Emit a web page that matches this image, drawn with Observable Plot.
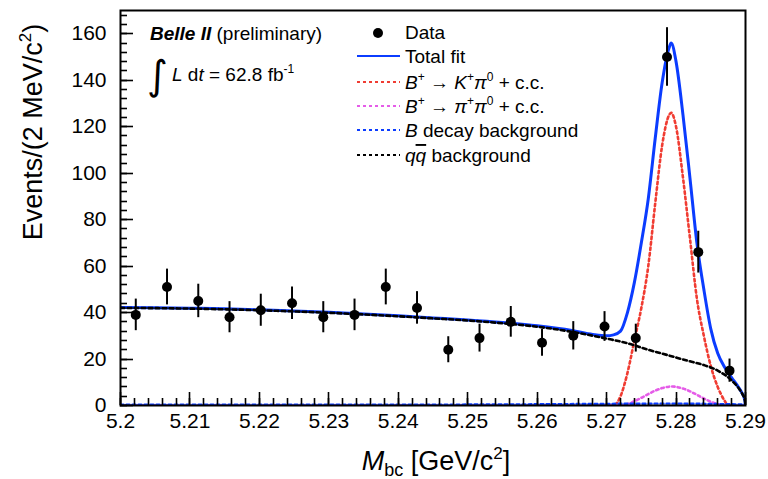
<!DOCTYPE html>
<html><head><meta charset="utf-8">
<script src="https://cdn.jsdelivr.net/npm/d3@7"></script>
<script src="https://cdn.jsdelivr.net/npm/@observablehq/plot@0.6"></script>
<style>body{margin:0;background:#fff;} svg{display:block;}</style>
</head><body><div id="chart"></div>
<script>
// ---- data ----
const binCenters = [5.2022,5.2067,5.2112,5.2157,5.2202,5.2247,5.2292,5.2337,5.2382,5.2427,5.2472,5.2517,5.2562,5.2607,5.2652,5.2697,5.2742,5.2787,5.2832,5.2877];
const events     = [39,51,45,38,41,44,38,39,51,42,24,29,36,27,30,34,29,150,66,15];
const errors     = [6.8,7.7,7.2,6.7,6.9,7.0,6.7,6.8,7.7,7.0,5.6,6.0,6.6,5.8,6.1,6.4,6.0,12.6,9.0,5.0];

const qqX = [5.200,5.205,5.210,5.215,5.220,5.225,5.230,5.235,5.240,5.245,5.250,5.255,5.260,5.265,5.270,5.273,5.276,5.279,5.282,5.284,5.286,5.288,5.289,5.2895,5.2899,5.290];
const qqY = [42.0,41.9,41.7,41.4,41.0,40.5,39.9,39.2,38.4,37.5,36.6,35.4,33.9,31.7,28.8,26.8,24.0,21.5,19.0,17.4,15.0,10.8,7.5,5.2,2.3,0];

const totX = [5.200,5.205,5.210,5.215,5.220,5.225,5.230,5.235,5.240,5.245,5.250,5.255,5.260,5.265,5.268,5.270,5.271,5.272,5.273,5.274,5.275,5.276,5.277,5.278,5.279,5.2793,5.280,5.281,5.282,5.283,5.284,5.285,5.286,5.287,5.288,5.289,5.2895,5.2899,5.290];
const totY = [42.2,42.1,41.9,41.6,41.2,40.7,40.1,39.4,38.6,37.7,36.8,35.7,34.3,32.3,30.6,30.0,30.4,32.0,40,53,70,89,115,139,154,156,148,125,98,70,50,33,22.5,16.5,12.0,7.8,5.3,2.4,0];

const sigX = [5.200,5.271,5.272,5.273,5.274,5.275,5.276,5.277,5.278,5.279,5.2793,5.280,5.281,5.282,5.283,5.284,5.285,5.286,5.287,5.2875,5.290];
const sigY = [0,0,4,14,28,42,60,87,112,125,126,120,98,72,46,30,17,8,2,0,0];

const pipiX = [5.200,5.272,5.273,5.274,5.275,5.276,5.277,5.278,5.279,5.2795,5.280,5.281,5.282,5.283,5.284,5.285,5.286,5.287,5.290];
const pipiY = [0,0,0.6,1.8,3.3,4.9,6.4,7.5,8.1,8.2,8.0,7.3,6.1,4.6,3.0,1.6,0.6,0,0];

const bbkgX = [5.200,5.250,5.280,5.290];
const bbkgY = [0.3,0.4,0.8,0.4];

const xMajor = [5.2,5.21,5.22,5.23,5.24,5.25,5.26,5.27,5.28,5.29];
const xTickLabels = ["5.2","5.21","5.22","5.23","5.24","5.25","5.26","5.27","5.28","5.29"];
const yMajor = [0,20,40,60,80,100,120,140,160];
const yTickLabels = ["0","20","40","60","80","100","120","140","160"];
const xMinor = d3.range(0, 46).map(i => 5.2 + i * 0.002);
const yMinor = d3.range(0, 43).map(i => i * 4);

// ---- layout ----
const W = 768, H = 479, mL = 120, mR = 23, mT = 10, mB = 74;
const X0 = 5.2, X1 = 5.29, Y0 = 0, Y1 = 170;
const FONT = "'Liberation Sans', Arial, Helvetica, sans-serif";

const pts = binCenters.map((x, i) => ({x, y: events[i], e: errors[i]}));
const toPts = (X, Y) => X.map((x, i) => ({x, y: Y[i]}));

const BLUE = "#0b3cff", RED = "#f03c32", PINK = "#e55ce8", BLACK = "#000";

const chart = Plot.plot({
  width: W, height: H,
  marginLeft: mL, marginRight: mR, marginTop: mT, marginBottom: mB,
  style: {fontFamily: FONT, background: "#fff", color: "#000"},
  x: {domain: [X0, X1]},
  y: {domain: [Y0, Y1]},
  marks: [
    Plot.line(toPts(totX, totY), {x: "x", y: "y", stroke: BLUE, strokeWidth: 3, curve: "monotone-x", clip: true}),
    Plot.line(toPts(sigX, sigY), {x: "x", y: "y", stroke: RED, strokeWidth: 2.6, strokeDasharray: "2.5,3", curve: "monotone-x", clip: true}),
    Plot.line(toPts(pipiX, pipiY), {x: "x", y: "y", stroke: PINK, strokeWidth: 2.6, strokeDasharray: "2.5,3", curve: "monotone-x", clip: true}),
    Plot.line(toPts(bbkgX, bbkgY), {x: "x", y: "y", stroke: BLUE, strokeWidth: 2.4, strokeDasharray: "3,3", curve: "monotone-x", clip: true}),
    Plot.line(toPts(qqX, qqY), {x: "x", y: "y", stroke: BLACK, strokeWidth: 2.6, strokeDasharray: "4,3", curve: "monotone-x", clip: true}),
    Plot.ruleX(pts, {x: "x", y1: d => d.y - d.e, y2: d => d.y + d.e, stroke: "#000", strokeWidth: 2}),
    Plot.dot(pts, {x: "x", y: "y", r: 5, fill: "#000"}),
    Plot.axisX({ticks: xMajor, tickSize: 0, tickPadding: 8, fontSize: 21, label: null,
      tickFormat: d => xTickLabels[xMajor.indexOf(d)]}),
    Plot.axisY({ticks: yMajor, tickSize: 0, tickPadding: 14, fontSize: 21, label: null,
      tickFormat: d => yTickLabels[yMajor.indexOf(d)]}),
    Plot.frame({stroke: "#000", strokeWidth: 2})
  ]
});
document.getElementById("chart").appendChild(chart);

const svg = d3.select(chart);

// ---- inward ROOT-style ticks, placed with Plot's own scales ----
const sx = chart.scale("x"), sy = chart.scale("y");
const tk = svg.append("g").attr("stroke", "#000").attr("stroke-width", 1.6);
const xBase = sy.apply(Y0), yBase = sx.apply(X0);
xMinor.forEach(v => { const p = Math.round(sx.apply(v)) + 0.5; tk.append("line").attr("x1", p).attr("x2", p).attr("y1", xBase).attr("y2", xBase - 7); });
xMajor.forEach(v => { const p = Math.round(sx.apply(v)) + 0.5; tk.append("line").attr("x1", p).attr("x2", p).attr("y1", xBase).attr("y2", xBase - 13); });
yMinor.forEach(v => { const p = Math.round(sy.apply(v)) + 0.5; tk.append("line").attr("y1", p).attr("y2", p).attr("x1", yBase).attr("x2", yBase + 7); });
yMajor.forEach(v => { const p = Math.round(sy.apply(v)) + 0.5; tk.append("line").attr("y1", p).attr("y2", p).attr("x1", yBase).attr("x2", yBase + 13); });

// ---- titles and legend ----
const g = svg.append("g").attr("font-family", FONT).attr("fill", "#000").attr("text-anchor", "start");

// y title
const yt = g.append("text").attr("transform", "translate(42,132) rotate(-90)")
  .attr("text-anchor", "middle").attr("font-size", 27);
yt.append("tspan").text("Events/(2 MeV/c");
yt.append("tspan").attr("font-size", 17).attr("dy", -11).text("2");
yt.append("tspan").attr("dy", 11).text(")");

// x title
const xt = g.append("text").attr("x", 436).attr("y", 470).attr("text-anchor", "middle").attr("font-size", 27);
xt.append("tspan").attr("font-style", "italic").text("M");
xt.append("tspan").attr("font-size", 18).attr("dy", 6).text("bc");
xt.append("tspan").attr("dy", -6).text(" [GeV/c");
xt.append("tspan").attr("font-size", 17).attr("dy", -11).text("2");
xt.append("tspan").attr("dy", 11).text("]");

// Belle II label
const FS = 19;
const bl = g.append("text").attr("x", 150).attr("y", 40).attr("font-size", FS);
bl.append("tspan").attr("font-weight", "bold").attr("font-style", "italic").text("Belle II");
bl.append("tspan").text(" (preliminary)");

g.append("text").attr("x", 147).attr("y", 89).attr("font-size", 40).attr("font-family", "'DejaVu Sans', sans-serif").text("\u222B");
const lum = g.append("text").attr("x", 172).attr("y", 81).attr("font-size", FS);
lum.append("tspan").attr("font-style", "italic").text("L");
lum.append("tspan").text(" d");
lum.append("tspan").attr("font-style", "italic").text("t");
lum.append("tspan").text(" = 62.8 fb");
lum.append("tspan").attr("font-size", 12).attr("dy", -8).text("-1");

// legend
const LX0 = 357, LX1 = 400, TX = 405;
const rows = [32, 56, 82, 106, 130, 155];
g.append("circle").attr("cx", 378).attr("cy", rows[0] + 1).attr("r", 5).attr("fill", "#000");
g.append("text").attr("x", TX).attr("y", rows[0] + 7).attr("font-size", FS).text("Data");

const lineStyles = [
  {stroke: BLUE, dash: null, w: 2},
  {stroke: RED, dash: "3,3", w: 2},
  {stroke: PINK, dash: "3,3", w: 2},
  {stroke: BLUE, dash: "3,3", w: 2},
  {stroke: BLACK, dash: "3,3", w: 2}
];
lineStyles.forEach((s, i) => {
  const l = g.append("line").attr("x1", LX0).attr("x2", LX1).attr("y1", rows[i + 1]).attr("y2", rows[i + 1])
    .attr("stroke", s.stroke).attr("stroke-width", s.w);
  if (s.dash) l.attr("stroke-dasharray", s.dash);
});

function row(i) { return g.append("text").attr("x", TX).attr("y", rows[i] + 7).attr("font-size", FS); }
row(1).text("Total fit");

function decay(i, first) {
  const t = row(i);
  t.append("tspan").attr("font-style", "italic").text("B");
  t.append("tspan").attr("font-size", 12).attr("dy", -8).text("+");
  t.append("tspan").attr("dy", 8).text(" \u2192 ");
  t.append("tspan").attr("font-style", "italic").text(first === "K" ? "K" : "\u03C0");
  t.append("tspan").attr("font-size", 12).attr("dy", -8).text("+");
  t.append("tspan").attr("dy", 8).attr("font-style", "italic").text("\u03C0");
  t.append("tspan").attr("font-size", 12).attr("dy", -8).text("0");
  t.append("tspan").attr("dy", 8).text(" + c.c.");
}
decay(2, "K");
decay(3, "pi");

const r4 = row(4);
r4.append("tspan").attr("font-style", "italic").text("B");
r4.append("tspan").text(" decay background");

const r5 = row(5);
r5.append("tspan").attr("font-style", "italic").text("q");
r5.append("tspan").attr("font-style", "italic").attr("text-decoration", "overline").text("q");
r5.append("tspan").text(" background");
</script></body></html>
